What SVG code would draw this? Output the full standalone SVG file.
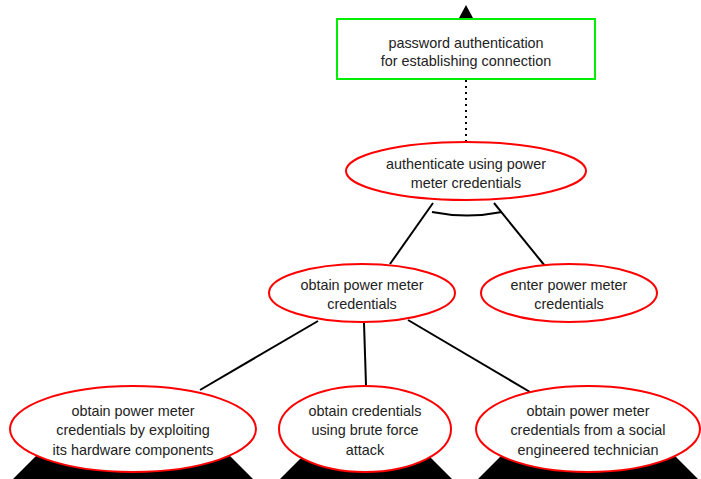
<svg xmlns="http://www.w3.org/2000/svg" width="701" height="479" viewBox="0 0 701 479">
<style>
.e{fill:#fff;stroke:#f00;stroke-width:2}
.r{fill:#fff;stroke:#0e0;stroke-width:2}
.t{font-family:"Liberation Sans",Arial,sans-serif;font-size:14.4px;fill:#222;text-anchor:middle}
.c{stroke:#000;stroke-width:2;fill:none}
.tri{fill:#000}
</style>
<rect width="701" height="479" fill="#fff"/>
<g id="connectors">
<line class="c" x1="466" y1="80" x2="466" y2="141" stroke-dasharray="2,4"/>
<line class="c" x1="433" y1="203" x2="390" y2="264"/>
<line class="c" x1="494" y1="203" x2="545" y2="266"/>
<path class="c" d="M432,212 Q467,219 502,212"/>
<line class="c" x1="318" y1="321" x2="200" y2="390"/>
<line class="c" x1="364" y1="323" x2="366" y2="385"/>
<line class="c" x1="408" y1="320" x2="530" y2="392"/>
</g>
<g id="n0">
<polygon class="tri" points="466,5 459,18 473,18"/>
<rect class="r" x="337" y="19" width="258" height="60"/>
<text class="t" x="466" y="48">password authentication</text>
<text class="t" x="466" y="66">for establishing connection</text>
</g>
<g id="n1">
<ellipse class="e" cx="466" cy="171" rx="120" ry="29"/>
<text class="t" x="466" y="169">authenticate using power</text>
<text class="t" x="466" y="188">meter credentials</text>
</g>
<g id="n2">
<ellipse class="e" cx="362" cy="293" rx="93" ry="29"/>
<text class="t" x="362" y="290">obtain power meter</text>
<text class="t" x="362" y="309">credentials</text>
</g>
<g id="n3">
<ellipse class="e" cx="569" cy="293" rx="88" ry="29"/>
<text class="t" x="569" y="290">enter power meter</text>
<text class="t" x="569" y="309">credentials</text>
</g>
<g id="n4">
<polygon class="tri" points="63,429 203,429 253,479 13,479"/>
<ellipse class="e" cx="133" cy="429" rx="123" ry="43"/>
<text class="t" x="133" y="416">obtain power meter</text>
<text class="t" x="133" y="435">credentials by exploiting</text>
<text class="t" x="133" y="455">its hardware components</text>
</g>
<g id="n5">
<polygon class="tri" points="330,429 402,429 452,479 280,479"/>
<ellipse class="e" cx="365" cy="429" rx="86" ry="43"/>
<text class="t" x="365" y="416">obtain credentials</text>
<text class="t" x="365" y="435">using brute force</text>
<text class="t" x="365" y="455">attack</text>
</g>
<g id="n6">
<polygon class="tri" points="528,429 648,429 698,479 478,479"/>
<ellipse class="e" cx="588" cy="429" rx="112" ry="43"/>
<text class="t" x="588" y="416">obtain power meter</text>
<text class="t" x="588" y="435">credentials from a social</text>
<text class="t" x="588" y="455">engineered technician</text>
</g>
</svg>
